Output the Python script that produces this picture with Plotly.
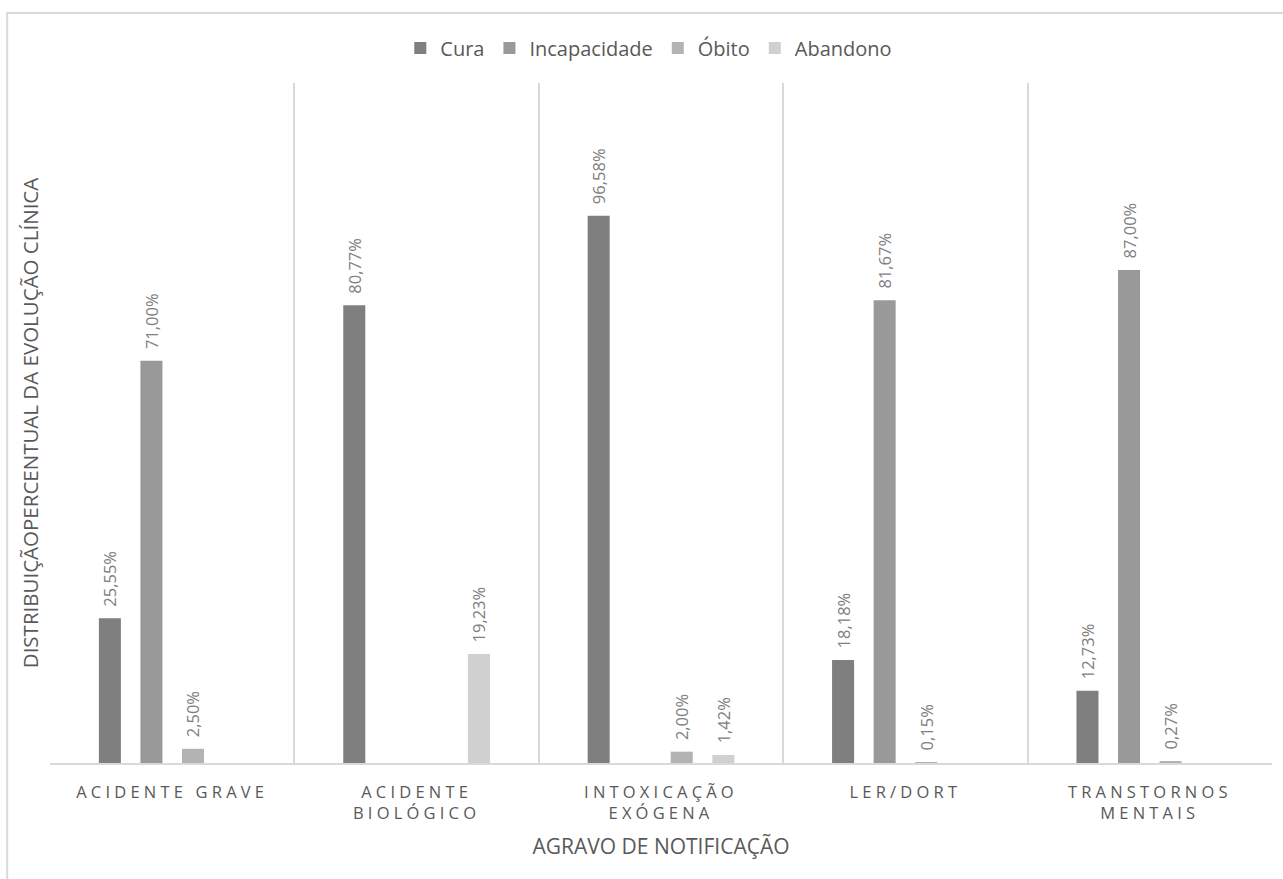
import plotly.graph_objects as go

categories = ["ACIDENTE GRAVE", "ACIDENTE<br>BIOLÓGICO", "INTOXICAÇÃO<br>EXÓGENA", "LER/DORT", "TRANSTORNOS<br>MENTAIS"]
series_names = ["Cura", "Incapacidade", "Óbito", "Abandono"]
cura = [25.55, 80.77, 96.58, 18.18, 12.73]
incapacidade = [71.00, None, None, 81.67, 87.00]
obito = [2.50, None, 2.00, 0.15, 0.27]
abandono = [None, 19.23, 1.42, None, None]
colors = ["#7f7f7f", "#999999", "#b3b3b3", "#d0d0d0"]

def fmt(v):
    if v is None:
        return ""
    return "\u00a0\u00a0" + f"{v:.2f}%".replace(".", ",")

fig = go.Figure()
for name, vals, col in zip(series_names, [cura, incapacidade, obito, abandono], colors):
    fig.add_trace(go.Bar(
        name=name, x=categories, y=vals, marker_color=col, marker_line_width=0,
        text=[fmt(v) for v in vals], textposition="outside", textangle=-90,
        constraintext="none",
        textfont=dict(family="Open Sans", size=16.5, color="#808080"),
        cliponaxis=False,
    ))

fig.update_layout(
    width=1283, height=879,
    paper_bgcolor="white", plot_bgcolor="white",
    margin=dict(l=50, r=11, t=83, b=116),
    barmode="group", bargap=0.32, bargroupgap=0.47,
    font=dict(family="Open Sans", color="#595959"),
    legend=dict(orientation="h", x=0.49, xanchor="center", y=1.0515, yanchor="middle",
                font=dict(size=20, color="#595959"), itemwidth=30, traceorder="normal"),
    xaxis=dict(type="category", tickson="boundaries", showgrid=True, gridcolor="#d9d9d9", gridwidth=1.5,
               showline=True, linecolor="#d9d9d9", linewidth=2, ticks="", mirror=False,
               ticklabelstandoff=13,
               tickfont=dict(size=16.5, color="#595959"),
               title=dict(text="AGRAVO DE NOTIFICAÇÃO", font=dict(size=21, color="#595959"), standoff=16)),
    yaxis=dict(range=[0, 120], showgrid=False, showticklabels=False, zeroline=False, ticks="",
               title=dict(text="DISTRIBUIÇÃOPERCENTUAL DA EVOLUÇÃO CLÍNICA", font=dict(size=20.5, color="#595959"), standoff=4)),
    shapes=[dict(type="rect", xref="paper", yref="paper", x0=-0.035, x1=1.05, y0=-0.3, y1=1.103,
                 line=dict(color="#d9d9d9", width=2), fillcolor="rgba(0,0,0,0)", layer="below")],
)

post = """
var s=document.createElement('style');
s.innerHTML='.xtick text{letter-spacing:4.2px;}';
document.head.appendChild(s);
"""
fig.write_html("out.html", post_script=post)
